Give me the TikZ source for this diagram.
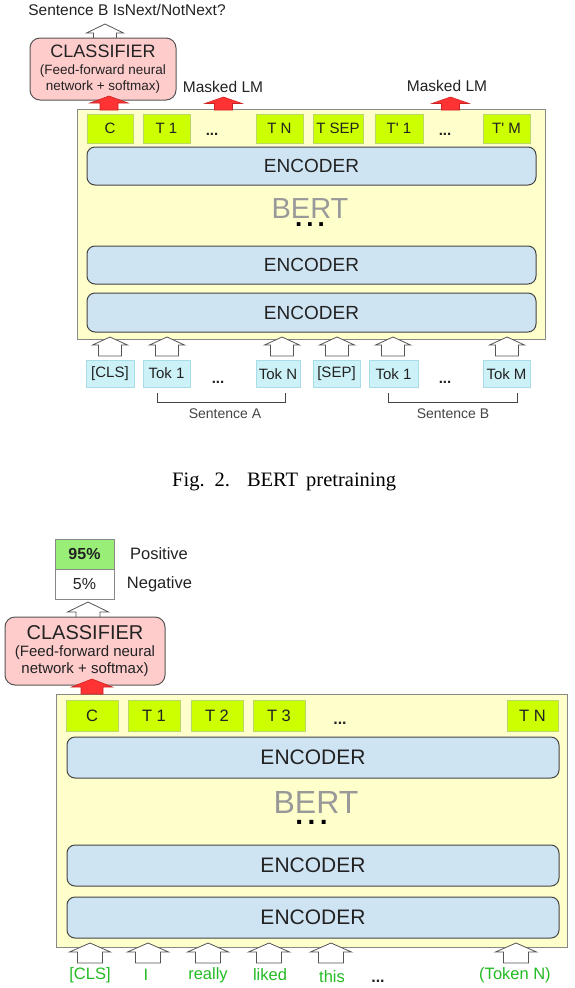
\documentclass[tikz,border=0pt]{standalone}
\usepackage{fontspec}
\setmainfont{Liberation Sans}
\newfontfamily\capfont{Liberation Serif}
\definecolor{bertfill}{HTML}{FFFFCC}
\definecolor{bertdraw}{HTML}{888888}
\definecolor{tokgreen}{HTML}{CCFF00}
\definecolor{tokgdraw}{HTML}{B8D86A}
\definecolor{tokcyan}{HTML}{CCF2F8}
\definecolor{tokcdraw}{HTML}{A8DCE6}
\definecolor{encfill}{HTML}{CFE4F3}
\definecolor{encdraw}{HTML}{444444}
\definecolor{clffill}{HTML}{FFCCCC}
\definecolor{clfdraw}{HTML}{555555}
\definecolor{redarr}{HTML}{FF3333}
\definecolor{redarrdraw}{HTML}{CC2222}
\definecolor{greentext}{HTML}{22BB22}
\definecolor{pctgreen}{HTML}{99EE77}
\definecolor{bertgray}{HTML}{999999}
\definecolor{txt}{HTML}{222222}
\newcommand\barrow[7]{\draw[#1] ({#2-#6},#5) -- ({#2-#6},#4) -- ({#2-#7},#4) -- (#2,#3) -- ({#2+#7},#4) -- ({#2+#6},#4) -- ({#2+#6},#5) -- cycle;}
\begin{document}
\begin{tikzpicture}[x=1pt,y=-1pt,
  bertbox/.style={draw=bertdraw, fill=bertfill, line width=1pt, inner sep=0},
  tokg/.style={draw=tokgdraw, fill=tokgreen, line width=0.8pt, inner sep=0, minimum height=29, text=txt},
  tokc/.style={draw=tokcdraw, fill=tokcyan, line width=0.8pt, inner sep=0, minimum height=27, text=txt},
  enc/.style={draw=encdraw, fill=encfill, line width=1pt, rounded corners=8pt, inner sep=0, text=txt},
  clf/.style={draw=clfdraw, fill=clffill, line width=1pt, rounded corners=10pt, inner sep=0, align=center, text=txt},
  lbl/.style={inner sep=0, text=txt},
  dots/.style={inner sep=0, text=txt, font=\bfseries\fontsize{15}{15}\selectfont},
  whitearr/.style={draw=clfdraw, fill=white, line width=0.8pt},
  redarrow/.style={draw=redarrdraw, fill=redarr, line width=0.6pt},
  brk/.style={draw=encdraw, line width=1pt},
  gword/.style={inner sep=0, text=greentext, font=\fontsize{16.5}{16.5}\selectfont},
]
\useasboundingbox (0,0) rectangle (574,988);
% ================= TOP FIGURE =================
\node[lbl, font=\fontsize{15.5}{15.5}\selectfont] (isnext) at (127,10) {Sentence B IsNext/NotNext?};
\barrow{whitearr}{105}{24}{33}{44}{11.5}{18.5}
\node[clf, minimum width=146, minimum height=62, font=\fontsize{13.5}{16}\selectfont] (clf1) at (103,69)
  {{\fontsize{18}{18}\selectfont CLASSIFIER}\\[1pt](Feed-forward neural\\network + softmax)};
\node[bertbox, minimum width=468, minimum height=230] (bert1) at (311,224) {};
\barrow{redarrow}{109}{96}{103}{110}{9}{19}
\barrow{redarrow}{223.5}{97}{103.5}{110}{9}{18.5}
\barrow{redarrow}{450.5}{97}{103.5}{110}{9}{18.5}
\node[lbl, font=\fontsize{15.5}{15.5}\selectfont] (mlm1) at (223,87) {Masked LM};
\node[lbl, font=\fontsize{15.5}{15.5}\selectfont] (mlm2) at (447,86) {Masked LM};
\begin{scope}[every node/.append style={font=\fontsize{15}{15}\selectfont}]
\node[tokg, minimum width=46] (c1) at (110,128.5) {C};
\node[tokg, minimum width=47] (t11) at (166.5,128.5) {T 1};
\node[dots] (dt1) at (212,134) {...};
\node[tokg, minimum width=47] (tn1) at (279.5,128.5) {T N};
\node[tokg, minimum width=50] (tsep) at (338,128.5) {T SEP};
\node[tokg, minimum width=48] (tp1) at (399,128.5) {T\textquotesingle\ 1};
\node[dots] (dt2) at (445,134) {...};
\node[tokg, minimum width=47] (tpm) at (506.5,128.5) {T\textquotesingle\ M};
\end{scope}
\begin{scope}[every node/.append style={font=\fontsize{19}{19}\selectfont}]
\node[enc, minimum width=449, minimum height=38] (e11) at (311.5,166) {ENCODER};
\node[enc, minimum width=449, minimum height=38] (e12) at (311.5,265) {ENCODER};
\node[enc, minimum width=449, minimum height=39] (e13) at (311.5,312.5) {ENCODER};
\end{scope}
\node[inner sep=0, text=bertgray, font=\fontsize{29}{29}\selectfont] (bertlbl1) at (310,209) {BERT};
\node[inner sep=0, text=black, font=\bfseries\fontsize{26}{26}\selectfont] (bertdots1) at (310,224.5) {.\kern4pt.\kern4pt.};
% input arrows
\foreach \cx in {110,167,282,337,393,507}{\barrow{whitearr}{\cx}{337}{345}{356}{11.5}{17.5}}
\begin{scope}[every node/.append style={font=\fontsize{15}{15}\selectfont}]
\node[tokc, minimum width=48] (cls1) at (110,374) {[CLS]};
\node[tokc, minimum width=47] (tok1a) at (166.5,373.5) {Tok 1};
\node[dots] (di1) at (218,382) {...};
\node[tokc, minimum width=44] (tokn) at (278,374) {Tok N};
\node[tokc, minimum width=47] (sep1) at (336.5,374) {[SEP]};
\node[tokc, minimum width=49] (tok1b) at (393.5,374) {Tok 1};
\node[dots] (di2) at (445,382) {...};
\node[tokc, minimum width=47] (tokm) at (506.5,374) {Tok M};
\end{scope}
\draw[brk] (157,393) -- (157,402) -- (285,402) -- (285,393);
\draw[brk] (388,393) -- (388,402) -- (517,402) -- (517,393);
\node[lbl, font=\fontsize{14}{14}\selectfont, text=encdraw] (sa) at (225,414) {Sentence A};
\node[lbl, font=\fontsize{14}{14}\selectfont, text=encdraw] (sb) at (453,414) {Sentence B};
% caption
\node[inner sep=0, anchor=west, font=\capfont\fontsize{20.5}{20.5}\selectfont] (cap) at (172,482) {Fig.\hspace{10pt}2.\hspace{17pt}BERT\hspace{8pt}pretraining};
% ================= BOTTOM FIGURE =================
\node[draw=bertdraw, fill=pctgreen, line width=0.8pt, minimum width=59, minimum height=30, inner sep=0, font=\bfseries\fontsize{16}{16}\selectfont, text=txt] (p95) at (84.5,554) {95\%};
\node[draw=bertdraw, fill=white, line width=0.8pt, minimum width=59, minimum height=30, inner sep=0, font=\fontsize{16}{16}\selectfont, text=txt] (p5) at (84.5,584) {5\%};
\node[lbl, font=\fontsize{16.5}{16.5}\selectfont] (pos) at (159,554) {Positive};
\node[lbl, font=\fontsize{16.5}{16.5}\selectfont] (neg) at (159.5,584) {Negative};
\barrow{whitearr}{88}{602}{612}{622}{12}{20.5}
\node[clf, minimum width=160, minimum height=68, font=\fontsize{15}{16.5}\selectfont] (clf2) at (85,651)
  {{\fontsize{20}{20}\selectfont CLASSIFIER}\\[1pt](Feed-forward neural\\network + softmax)};
\node[bertbox, minimum width=511, minimum height=253] (bert2) at (311.5,820.5) {};
\barrow{redarrow}{92}{679}{687}{694}{11}{20.5}
\begin{scope}[every node/.append style={font=\fontsize{16.5}{16.5}\selectfont}]
\node[tokg, minimum width=52, minimum height=31] (c2) at (92,715.5) {C};
\node[tokg, minimum width=52, minimum height=31] (t21) at (154,715.5) {T 1};
\node[tokg, minimum width=52, minimum height=31] (t22) at (217,715.5) {T 2};
\node[tokg, minimum width=52, minimum height=31] (t23) at (279,715.5) {T 3};
\node[dots, font=\bfseries\fontsize{16}{16}\selectfont] (dt3) at (340,723) {...};
\node[tokg, minimum width=51, minimum height=31] (t2n) at (532.5,715.5) {T N};
\end{scope}
\begin{scope}[every node/.append style={font=\fontsize{21}{21}\selectfont}]
\node[enc, minimum width=492, minimum height=41] (e21) at (313,757.5) {ENCODER};
\node[enc, minimum width=492, minimum height=41] (e22) at (313,865.5) {ENCODER};
\node[enc, minimum width=492, minimum height=41] (e23) at (313,917.5) {ENCODER};
\end{scope}
\node[inner sep=0, text=bertgray, font=\fontsize{32}{32}\selectfont] (bertlbl2) at (316,802.5) {BERT};
\node[inner sep=0, text=black, font=\bfseries\fontsize{28}{28}\selectfont] (bertdots2) at (311.5,822) {.\kern4.5pt.\kern4.5pt.};
\foreach \cx in {90,148,208,269,331,516}{\barrow{whitearr}{\cx}{943}{952}{963}{12.5}{20.5}}
\node[gword] (w1) at (90,975) {[CLS]};
\node[gword] (w2) at (146,975) {I};
\node[gword] (w3) at (208,975) {really};
\node[gword] (w4) at (270,975) {liked};
\node[gword] (w5) at (332,977) {this};
\node[dots, font=\bfseries\fontsize{16}{16}\selectfont] (w6) at (378,981) {...};
\node[gword] (w7) at (515,975) {(Token N)};
\end{tikzpicture}
\end{document}
